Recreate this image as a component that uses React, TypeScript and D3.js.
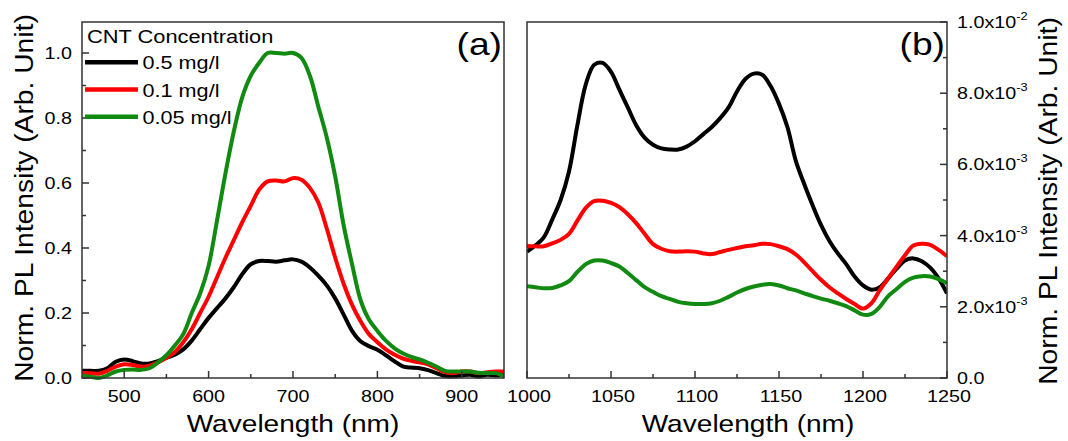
import React from 'react';
import * as d3 from 'd3';

// ---------- Panel (a) data ----------
const waveA = [450,460,470,480,490,500,510,520,530,540,550,560,570,580,590,600,610,620,630,640,650,660,670,680,690,700,710,720,730,740,750,760,770,780,790,800,810,820,830,840,850,860,870,880,890,900,910,920,930,940,950];
const blackA = [0.022,0.022,0.022,0.03,0.05,0.057,0.052,0.045,0.045,0.052,0.062,0.072,0.088,0.115,0.15,0.185,0.215,0.245,0.28,0.32,0.35,0.36,0.36,0.358,0.362,0.365,0.358,0.34,0.315,0.285,0.245,0.195,0.145,0.113,0.098,0.087,0.07,0.052,0.036,0.032,0.03,0.024,0.015,0.006,0.005,0.008,0.01,0.005,0.01,0.008,0.012];
const redA = [0.015,0.015,0.013,0.022,0.035,0.042,0.04,0.035,0.038,0.048,0.062,0.08,0.11,0.15,0.2,0.25,0.31,0.37,0.425,0.48,0.53,0.58,0.605,0.608,0.605,0.615,0.61,0.585,0.54,0.46,0.37,0.29,0.225,0.175,0.135,0.11,0.088,0.072,0.06,0.053,0.048,0.042,0.03,0.018,0.015,0.02,0.02,0.015,0.018,0.02,0.02];
const greenA = [0.008,0.004,0.0,0.008,0.02,0.025,0.026,0.025,0.03,0.048,0.07,0.1,0.135,0.2,0.26,0.345,0.485,0.63,0.76,0.865,0.93,0.97,1.0,1.0,0.998,1.0,0.985,0.93,0.835,0.74,0.62,0.47,0.35,0.24,0.18,0.145,0.115,0.092,0.076,0.065,0.057,0.047,0.035,0.022,0.02,0.02,0.02,0.016,0.015,0.015,0.005];

// ---------- Panel (b) data (values in units of 1e-3) ----------
const waveB = [1000,1005,1010,1015,1020,1025,1030,1035,1040,1045,1050,1055,1060,1065,1070,1075,1080,1085,1090,1095,1100,1105,1110,1115,1120,1125,1130,1135,1140,1145,1150,1155,1160,1165,1170,1175,1180,1185,1190,1195,1200,1205,1210,1215,1220,1225,1230,1235,1240,1245,1250];
const blackB = [3.55,3.72,3.95,4.45,5.0,5.8,7.1,8.25,8.8,8.85,8.6,8.1,7.6,7.1,6.75,6.55,6.45,6.42,6.42,6.5,6.65,6.85,7.05,7.3,7.6,8.05,8.4,8.55,8.52,8.2,7.7,7.05,6.1,5.45,4.85,4.3,3.85,3.5,3.2,2.85,2.6,2.48,2.55,2.8,3.07,3.3,3.36,3.28,3.1,2.8,2.38];
const redB = [3.71,3.7,3.7,3.78,3.88,4.05,4.42,4.78,4.97,4.98,4.92,4.8,4.6,4.35,4.05,3.76,3.63,3.56,3.55,3.56,3.55,3.5,3.48,3.54,3.6,3.65,3.7,3.73,3.77,3.76,3.7,3.62,3.47,3.25,3.0,2.76,2.55,2.38,2.22,2.08,1.95,2.1,2.47,2.8,3.13,3.45,3.72,3.77,3.74,3.6,3.42];
const greenB = [2.58,2.55,2.52,2.53,2.6,2.72,2.98,3.2,3.3,3.3,3.23,3.13,2.95,2.75,2.55,2.42,2.3,2.22,2.14,2.1,2.08,2.08,2.1,2.17,2.28,2.4,2.5,2.57,2.62,2.64,2.6,2.52,2.46,2.38,2.3,2.23,2.17,2.1,2.02,1.9,1.78,1.8,2.0,2.3,2.5,2.7,2.82,2.86,2.85,2.78,2.66];

// ---------- Labels / ticks ----------
const legendTitle = 'CNT Concentration';
const seriesNames = ['0.5 mg/l', '0.1 mg/l', '0.05 mg/l'];
const seriesColors = ['#000000', '#ff0000', '#108a10'];
const xTicksA = [500, 600, 700, 800, 900];
const xMinorA = [550, 650, 750, 850];
const yTicksA = [0, 0.2, 0.4, 0.6, 0.8, 1.0];
const yMinorA = [0.1, 0.3, 0.5, 0.7, 0.9];
const xTicksB = [1000, 1050, 1100, 1150, 1200, 1250];
const xMinorB = [1025, 1075, 1125, 1175, 1225];
const yTicksB = [0, 2, 4, 6, 8, 10];
const yMinorB = [1, 3, 5, 7, 9];
const yTickLabelsB = ['0.0', '2.0x10', '4.0x10', '6.0x10', '8.0x10', '1.0x10'];
const yTickExpB = ['', '-3', '-3', '-3', '-3', '-2'];
const xTitle = 'Wavelength (nm)';
const yTitle = 'Norm. PL Intensity (Arb. Unit)';

const FONT = '"Liberation Sans", Arial, Helvetica, sans-serif';
const SX = 1.16;

function Txt(props: { x: number; y: number; rot?: number; size: number; anchor?: string; sx?: number; children: any }) {
  const { x, y, rot = 0, size, anchor = 'start', sx = SX, children } = props;
  return (
    <g transform={`translate(${x},${y}) rotate(${rot}) scale(${sx},1)`}>
      <text fontFamily={FONT} fontSize={size} textAnchor={anchor} fill="#000">{children}</text>
    </g>
  );
}

export default function App() {
  const xA = d3.scaleLinear().domain([450, 950]).range([82, 504]);
  const yA = d3.scaleLinear().domain([0, 1.0954]).range([378, 22]);
  const xB = d3.scaleLinear().domain([1000, 1250]).range([527, 947]);
  const yB = d3.scaleLinear().domain([0, 10]).range([378, 22]);

  const lineA = (vals: number[]) =>
    d3.line<number>().x((_, i) => xA(waveA[i])).y((d) => yA(d)).curve(d3.curveCatmullRom)(vals) || '';
  const lineB = (vals: number[]) =>
    d3.line<number>().x((_, i) => xB(waveB[i])).y((d) => yB(d)).curve(d3.curveCatmullRom)(vals) || '';

  const seriesA = [blackA, redA, greenA];
  const seriesB = [blackB, redB, greenB];
  const frame = '#333';
  const MAJ = 7, MIN = 4;

  return (
    <svg width={1068} height={441} style={{ position: 'absolute', left: 0, top: 0, background: '#fff' }}>
      <rect x={0} y={0} width={1068} height={441} fill="#fff" />
      <defs>
        <clipPath id="clipA"><rect x={82} y={22} width={422} height={358} /></clipPath>
        <clipPath id="clipB"><rect x={527} y={22} width={420} height={358} /></clipPath>
      </defs>

      {/* Panel (a) curves */}
      <g clipPath="url(#clipA)">
        {seriesA.map((s, i) => (
          <path key={i} d={lineA(s)} fill="none" stroke={seriesColors[i]} strokeWidth={4} strokeLinejoin="round" />
        ))}
      </g>
      {/* Panel (b) curves */}
      <g clipPath="url(#clipB)">
        {seriesB.map((s, i) => (
          <path key={i} d={lineB(s)} fill="none" stroke={seriesColors[i]} strokeWidth={4} strokeLinejoin="round" />
        ))}
      </g>

      {/* Frames */}
      <rect x={82} y={22} width={422} height={356} fill="none" stroke={frame} strokeWidth={1.5} />
      <rect x={527} y={22} width={420} height={356} fill="none" stroke={frame} strokeWidth={1.5} />

      {/* Panel (a) ticks */}
      {xTicksA.map((t) => (
        <g key={'xa' + t}>
          <line x1={xA(t)} x2={xA(t)} y1={378} y2={378 - MAJ} stroke={frame} strokeWidth={1.5} />
          <Txt x={xA(t)} y={402} size={17} anchor="middle">{t}</Txt>
        </g>
      ))}
      {xMinorA.map((t) => (
        <line key={'xam' + t} x1={xA(t)} x2={xA(t)} y1={378} y2={378 - MIN} stroke={frame} strokeWidth={1.5} />
      ))}
      {yTicksA.map((t) => (
        <g key={'ya' + t}>
          <line x1={82} x2={82 + MAJ} y1={yA(t)} y2={yA(t)} stroke={frame} strokeWidth={1.5} />
          <Txt x={72} y={yA(t) + 6} size={17} anchor="end">{t.toFixed(1)}</Txt>
        </g>
      ))}
      {yMinorA.map((t) => (
        <line key={'yam' + t} x1={82} x2={82 + MIN} y1={yA(t)} y2={yA(t)} stroke={frame} strokeWidth={1.5} />
      ))}

      {/* Panel (b) ticks */}
      {xTicksB.map((t) => (
        <g key={'xb' + t}>
          <line x1={xB(t)} x2={xB(t)} y1={378} y2={378 - MAJ} stroke={frame} strokeWidth={1.5} />
          <Txt x={xB(t) + 2} y={402} size={17} anchor="middle">{t}</Txt>
        </g>
      ))}
      {xMinorB.map((t) => (
        <line key={'xbm' + t} x1={xB(t)} x2={xB(t)} y1={378} y2={378 - MIN} stroke={frame} strokeWidth={1.5} />
      ))}
      {yTicksB.map((t, i) => (
        <g key={'yb' + t}>
          <line x1={947} x2={947 - MAJ} y1={yB(t)} y2={yB(t)} stroke={frame} strokeWidth={1.5} />
          <g transform={`translate(957,${yB(t) + 6}) scale(${SX},1)`}>
            <text fontFamily={FONT} fontSize={17} fill="#000">
              {yTickLabelsB[i]}
              {yTickExpB[i] ? (
                <tspan fontSize={11} dy={-8}>{yTickExpB[i]}</tspan>
              ) : null}
            </text>
          </g>
        </g>
      ))}
      {yMinorB.map((t) => (
        <line key={'ybm' + t} x1={947} x2={947 - MIN} y1={yB(t)} y2={yB(t)} stroke={frame} strokeWidth={1.5} />
      ))}

      {/* Legend */}
      <Txt x={87} y={42.5} size={18.5} sx={1.18}>{legendTitle}</Txt>
      {seriesNames.map((n, i) => {
        const ly = 62.3 + i * 27.2;
        return (
          <g key={n}>
            <line x1={85} x2={138} y1={ly} y2={ly} stroke={seriesColors[i]} strokeWidth={4.5} />
            <Txt x={142.5} y={ly + 7} size={18.5} sx={1.17}>{n}</Txt>
          </g>
        );
      })}

      {/* Panel labels */}
      <Txt x={502} y={55} size={31} anchor="end" sx={1.2}>(a)</Txt>
      <Txt x={945} y={55} size={31} anchor="end" sx={1.2}>(b)</Txt>

      {/* Axis titles */}
      <Txt x={293} y={432} size={24} anchor="middle" sx={1.17}>{xTitle}</Txt>
      <Txt x={748} y={432} size={24} anchor="middle" sx={1.17}>{xTitle}</Txt>
      <Txt x={33} y={198} rot={-90} size={25} anchor="middle" sx={1.13}>{yTitle}</Txt>
      <Txt x={1057} y={201} rot={-90} size={25} anchor="middle" sx={1.13}>{yTitle}</Txt>
    </svg>
  );
}
